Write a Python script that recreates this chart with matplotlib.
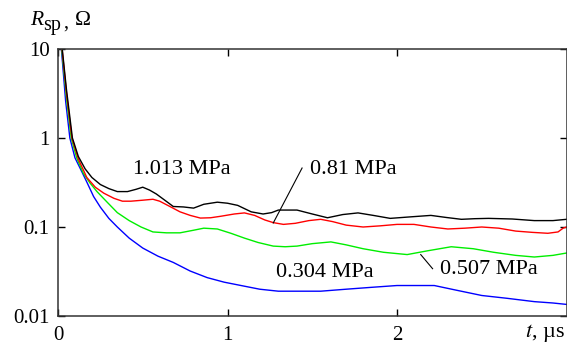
import matplotlib
matplotlib.use("Agg")
import matplotlib.pyplot as plt

plt.rcParams['font.family'] = ['Liberation Serif', 'DejaVu Serif']
plt.rcParams['mathtext.fontset'] = 'stix'

# Data (time in microseconds, resistance in ohms)
t_1013 = [0.015, 0.025, 0.05, 0.085, 0.12, 0.16, 0.20, 0.25, 0.30, 0.35, 0.41, 0.46, 0.50, 0.54, 0.58,
          0.63, 0.68, 0.74, 0.80, 0.86, 0.94, 1.00, 1.06, 1.14, 1.21, 1.26, 1.30, 1.41, 1.50, 1.59,
          1.68, 1.77, 1.86, 1.96, 2.08, 2.20, 2.29, 2.38, 2.46, 2.54, 2.68, 2.81, 2.92, 3.0]
r_1013 = [13, 10, 3.5, 1.0, 0.62, 0.45, 0.36, 0.30, 0.27, 0.25, 0.25, 0.265, 0.28, 0.26, 0.235,
          0.20, 0.17, 0.168, 0.163, 0.18, 0.19, 0.185, 0.175, 0.148, 0.14, 0.145, 0.155, 0.155, 0.14, 0.127,
          0.138, 0.144, 0.135, 0.125, 0.13, 0.135, 0.128, 0.122, 0.124, 0.125, 0.123, 0.118, 0.118, 0.122]

t_081 = [0.015, 0.024, 0.05, 0.082, 0.12, 0.17, 0.22, 0.27, 0.33, 0.38, 0.43, 0.50, 0.56, 0.60, 0.66,
         0.72, 0.78, 0.84, 0.90, 0.96, 1.04, 1.10, 1.16, 1.22, 1.27, 1.33, 1.40, 1.48, 1.55, 1.62,
         1.70, 1.80, 1.90, 2.00, 2.10, 2.20, 2.30, 2.40, 2.50, 2.60, 2.70, 2.80, 2.89, 2.95, 2.98, 3.0]
r_081 = [13, 10, 3.2, 1.0, 0.58, 0.36, 0.28, 0.24, 0.21, 0.195, 0.195, 0.20, 0.205, 0.195, 0.17,
         0.148, 0.135, 0.126, 0.127, 0.132, 0.14, 0.144, 0.135, 0.12, 0.112, 0.107, 0.11, 0.118, 0.122, 0.115,
         0.105, 0.10, 0.103, 0.107, 0.107, 0.10, 0.095, 0.097, 0.10, 0.097, 0.09, 0.087, 0.085, 0.088, 0.097, 0.10]

t_0507 = [0.015, 0.022, 0.05, 0.078, 0.11, 0.15, 0.19, 0.23, 0.29, 0.35, 0.42, 0.49, 0.56, 0.64, 0.72,
          0.80, 0.86, 0.94, 1.02, 1.10, 1.18, 1.27, 1.34, 1.41, 1.50, 1.61, 1.70, 1.80, 1.92, 2.06,
          2.18, 2.32, 2.45, 2.57, 2.70, 2.81, 2.92, 3.0]
r_0507 = [13, 10, 2.8, 1.0, 0.6, 0.40, 0.31, 0.25, 0.19, 0.145, 0.118, 0.10, 0.088, 0.086, 0.086,
          0.092, 0.097, 0.095, 0.085, 0.075, 0.067, 0.061, 0.06, 0.061, 0.065, 0.068, 0.063, 0.057, 0.052, 0.049,
          0.054, 0.06, 0.057, 0.052, 0.048, 0.046, 0.048, 0.051]

t_0304 = [0.012, 0.02, 0.045, 0.07, 0.10, 0.14, 0.17, 0.21, 0.25, 0.30, 0.35, 0.42, 0.50, 0.59, 0.68,
          0.78, 0.88, 0.98, 1.08, 1.19, 1.30, 1.42, 1.55, 1.70, 1.85, 2.00, 2.12, 2.22, 2.35, 2.50,
          2.65, 2.81, 2.92, 3.0]
r_0304 = [13, 10, 2.6, 1.0, 0.6, 0.42, 0.32, 0.22, 0.167, 0.125, 0.10, 0.075, 0.058, 0.047, 0.04,
          0.032, 0.027, 0.024, 0.022, 0.020, 0.019, 0.019, 0.019, 0.020, 0.021, 0.022, 0.022, 0.022, 0.0195, 0.017,
          0.0158, 0.0145, 0.014, 0.0135]

x_ticks = [0, 1, 2]
x_ticklabels = ["0", "1", "2"]
y_ticks = [0.01, 0.1, 1, 10]
y_ticklabels = ["0.01", "0.1", "1", "10"]

fig = plt.figure(figsize=(5.67, 3.45), dpi=100)
ax = fig.add_axes([58/567, 1-316/345, 508.5/567, (316-49)/345])

ax.plot(t_0304, r_0304, color='#0000ff', lw=1.0)
ax.plot(t_0507, r_0507, color='#00ee00', lw=1.0)
ax.plot(t_081, r_081, color='#ff0000', lw=1.0)
ax.plot(t_1013, r_1013, color='#000000', lw=1.0)

ax.set_yscale('log')
ax.set_xlim(0, 3.0)
ax.set_ylim(0.01, 10)
ax.set_xticks(x_ticks)
ax.set_xticklabels(x_ticklabels)
ax.set_yticks(y_ticks)
ax.set_yticklabels(y_ticklabels)
ax.minorticks_off()
ax.tick_params(axis='both', direction='in', labelsize=15, length=5, width=1, colors='black')
ax.tick_params(axis='x', pad=7, top=True)
ax.tick_params(axis='y', pad=6, right=True)
for s in ax.spines.values():
    s.set_linewidth(1.1)
    s.set_color('#333333')

fs = 16
ax.text(0.73, 0.437, "1.013 MPa", fontsize=fs, ha='center', va='center')
ax.text(1.745, 0.437, "0.81 MPa", fontsize=fs, ha='center', va='center')
ax.text(2.54, 0.0329, "0.507 MPa", fontsize=fs, ha='center', va='center')
ax.text(1.574, 0.031, "0.304 MPa", fontsize=fs, ha='center', va='center')
ax.plot([1.44, 1.27], [0.46, 0.111], color='black', lw=0.8)
ax.plot([2.14, 2.21], [0.049, 0.034], color='black', lw=0.8)

W, H = 567, 345
fig.text(30/W, 1-25/H, "R", fontsize=15.5, style='italic', ha='left', va='baseline')
fig.text(43/W, 1-30/H, "sp", fontsize=14.5, ha='left', va='baseline')
fig.text(63/W, 1-28/H, ",", fontsize=14.5, ha='left', va='baseline')
fig.text(75/W, 1-25/H, "Ω", fontsize=15.5, ha='left', va='baseline')
fig.text(565/W, 1-337/H, r"$t$, µs", fontsize=16, ha='right', va='baseline')

fig.savefig("out.png", dpi=100)
